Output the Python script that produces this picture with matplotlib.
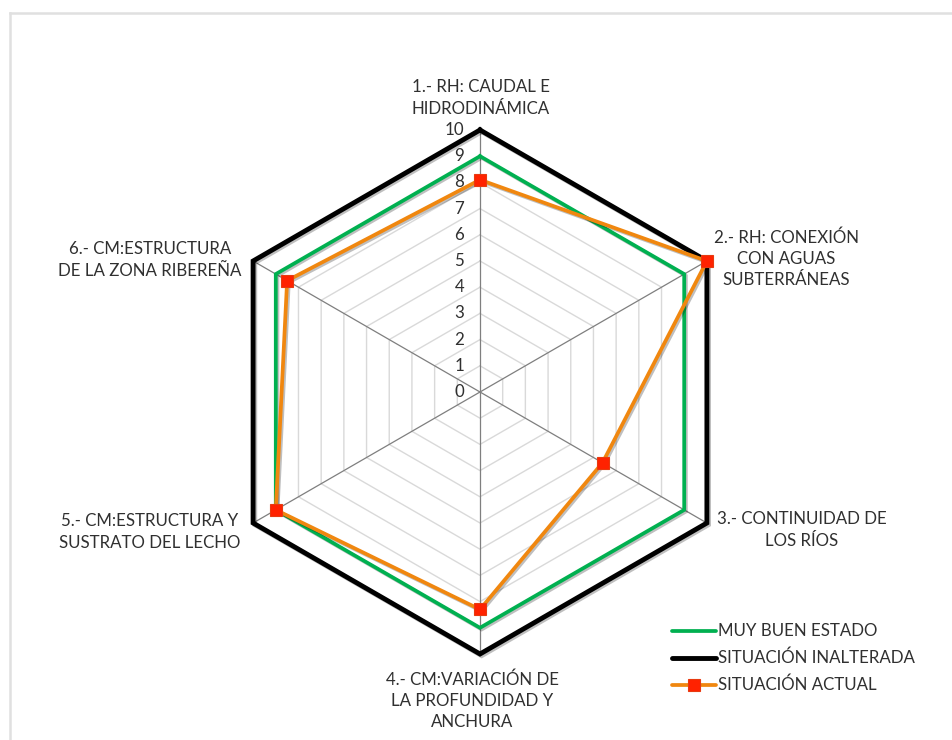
import numpy as np
import matplotlib
matplotlib.use("Agg")
import matplotlib.pyplot as plt
import matplotlib.patheffects as pe

plt.rcParams['font.family'] = ['Lato', 'DejaVu Sans']

# datos
categorias = ["1.- RH: CAUDAL E\nHIDRODINÁMICA",
              "2.- RH: CONEXIÓN\nCON AGUAS\nSUBTERRÁNEAS",
              "3.- CONTINUIDAD DE\nLOS RÍOS",
              "4.- CM:VARIACIÓN DE\nLA PROFUNDIDAD Y\nANCHURA",
              "5.- CM:ESTRUCTURA Y\nSUSTRATO DEL LECHO",
              "6.- CM:ESTRUCTURA\nDE LA ZONA RIBEREÑA"]
muy_buen_estado = [9, 9, 9, 9, 9, 9]
situacion_inalterada = [10, 10, 10, 10, 10, 10]
situacion_actual = [8.1, 10, 5.4, 8.3, 9, 8.5]
ticks = list(range(0, 11))

W, H = 952, 740
CX, CY = 480, 392      # centro en pixeles
ESC = 26.2             # pixeles por unidad
TXT = '#303030'
FS = 12.2

fig = plt.figure(figsize=(W / 100, H / 100), dpi=100)
ax = fig.add_axes([0, 0, 1, 1])
ax.set_xlim(-CX / ESC, (W - CX) / ESC)
ax.set_ylim(-(H - CY) / ESC, CY / ESC)
ax.set_aspect('equal')
ax.axis('off')

n = len(categorias)
ang = np.pi / 2 - np.arange(n) * 2 * np.pi / n


def xy(vals):
    v = np.asarray(vals, dtype=float)
    x = v * np.cos(ang)
    y = v * np.sin(ang)
    return np.r_[x, x[0]], np.r_[y, y[0]]


def px(x, y):
    # pixel -> datos
    return (x - CX) / ESC, (CY - y) / ESC


# rejilla hexagonal
for t in ticks[1:]:
    gx, gy = xy([t] * n)
    ax.plot(gx, gy, color='#D9D9D9', lw=1, zorder=1)
for a in ang:
    ax.plot([0, 10 * np.cos(a)], [0, 10 * np.sin(a)], color='#7F7F7F', lw=0.9, zorder=2)

# etiquetas del eje radial
for t in ticks:
    ax.text(-0.6, t, str(t), ha='right', va='center', fontsize=FS, color=TXT, zorder=3)

sombra = [pe.SimpleLineShadow(offset=(1.2, -1.2), alpha=0.25), pe.Normal()]
estilos = {
    'negro': dict(color='black', lw=3.5),
    'verde': dict(color='#00B050', lw=2.7),
    'naranja': dict(color='#F0870F', lw=2.7),
}
marca = dict(ls='none', marker='s', ms=8, mfc='#FF2200', mec='#E83A10', mew=0.8)

x, y = xy(situacion_inalterada)
ax.plot(x, y, solid_joinstyle='miter', zorder=4, path_effects=sombra, **estilos['negro'])
x, y = xy(muy_buen_estado)
ax.plot(x, y, solid_joinstyle='miter', zorder=5, path_effects=sombra, **estilos['verde'])
x, y = xy(situacion_actual)
ax.plot(x, y, zorder=6, path_effects=sombra, **estilos['naranja'])
ax.plot(x[:-1], y[:-1], zorder=7, **marca)

# etiquetas de categorias (posicion en pixeles)
pos = [(481, 98), (786, 259), (802, 530), (472, 701), (150, 532), (150, 260)]
for cat, (px_, py_) in zip(categorias, pos):
    tx, ty = px(px_, py_)
    ax.text(tx, ty, cat, ha='center', va='center', fontsize=FS, color=TXT,
            linespacing=1.4, multialignment='center')

# leyenda
ley = [("MUY BUEN ESTADO", 'verde'),
       ("SITUACIÓN INALTERADA", 'negro'),
       ("SITUACIÓN ACTUAL", 'naranja')]
for i, (nombre, clave) in enumerate(ley):
    yy = 631 + i * 27
    x0, y0 = px(672, yy)
    x1, _ = px(716, yy)
    ax.plot([x0, x1], [y0, y0], solid_capstyle='round', **estilos[clave])
    if clave == 'naranja':
        ax.plot([(x0 + x1) / 2], [y0], **marca)
    tx, _ = px(718, yy)
    ax.text(tx, y0, nombre, ha='left', va='center', fontsize=FS, color=TXT)

# borde del grafico
fig.add_artist(plt.Line2D([10 / W, 10 / W], [0, 1 - 13 / H], color='#E0E0E0', lw=1.8))
fig.add_artist(plt.Line2D([10 / W, 1], [1 - 13 / H, 1 - 13 / H], color='#E0E0E0', lw=1.8))

fig.savefig('out.png', dpi=100, facecolor='white')
